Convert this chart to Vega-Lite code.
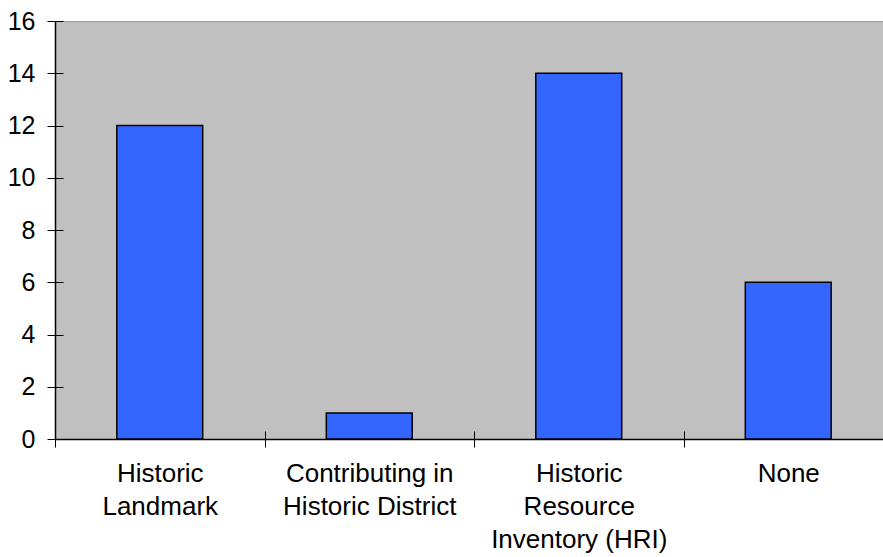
{
  "$schema": "https://vega.github.io/schema/vega-lite/v6.json",
  "width": 838,
  "height": 418,
  "autosize": {"type": "none"},
  "padding": {"left": 55, "top": 21, "right": 0, "bottom": 118},
  "background": "white",
  "config": {
    "view": {"fill": "#C0C0C0", "stroke": "#999999", "strokeWidth": 1},
    "font": "Liberation Sans"
  },
  "data": {
    "values": [
      {"category": "Historic Landmark", "count": 12},
      {"category": "Contributing in Historic District", "count": 1},
      {"category": "Historic Resource Inventory (HRI)", "count": 14},
      {"category": "None", "count": 6}
    ]
  },
  "layer": [
    {
      "mark": {"type": "bar", "fill": "#3366FF", "stroke": "black", "strokeWidth": 1.5},
      "encoding": {
        "x": {
          "field": "category", "type": "nominal", "sort": null,
          "scale": {"paddingInner": 0.59, "paddingOuter": 0.295},
          "axis": {
            "title": null, "labelAngle": 0, "orient": "bottom",
            "tickBand": "center", "tickOffset": -104.75, "labelOffset": 104.75, "tickSize": 8, "tickColor": "black", "tickWidth": 1,
            "domainColor": "black", "domainWidth": 1.5,
            "labelFontSize": 26, "labelColor": "black", "labelFont": "Liberation Sans",
            "labelPadding": 13, "labelLineHeight": 33, "labelLimit": 0,
            "labelExpr": "datum.value == 'Historic Landmark' ? ['Historic', 'Landmark'] : datum.value == 'Contributing in Historic District' ? ['Contributing in', 'Historic District'] : datum.value == 'Historic Resource Inventory (HRI)' ? ['Historic', 'Resource', 'Inventory (HRI)'] : datum.value"
          }
        },
        "y": {
          "field": "count", "type": "quantitative",
          "scale": {"domain": [0, 16], "nice": false},
          "axis": {
            "title": null, "orient": "left", "values": [0, 2, 4, 6, 8, 10, 12, 14, 16],
            "grid": false, "tickSize": 8, "tickColor": "black", "tickWidth": 1,
            "domainColor": "black", "domainWidth": 1.5,
            "labelFontSize": 25, "labelColor": "black", "labelFont": "Liberation Sans",
            "labelPadding": 12
          }
        }
      }
    },
    {
      "mark": {"type": "bar", "opacity": 0},
      "encoding": {
        "x": {
          "field": "category", "type": "nominal", "sort": null,
          "axis": {
            "title": null, "orient": "bottom", "labels": false, "domain": false,
            "tickBand": "center", "tickOffset": -104.75, "tickSize": -8, "tickColor": "black", "tickWidth": 1
          }
        },
        "y": {
          "field": "count", "type": "quantitative",
          "axis": {
            "title": null, "orient": "left", "labels": false, "domain": false, "grid": false,
            "values": [0, 2, 4, 6, 8, 10, 12, 14, 16],
            "tickSize": -8, "tickColor": "black", "tickWidth": 1
          }
        }
      }
    }
  ],
  "resolve": {"axis": {"x": "independent", "y": "independent"}}
}
